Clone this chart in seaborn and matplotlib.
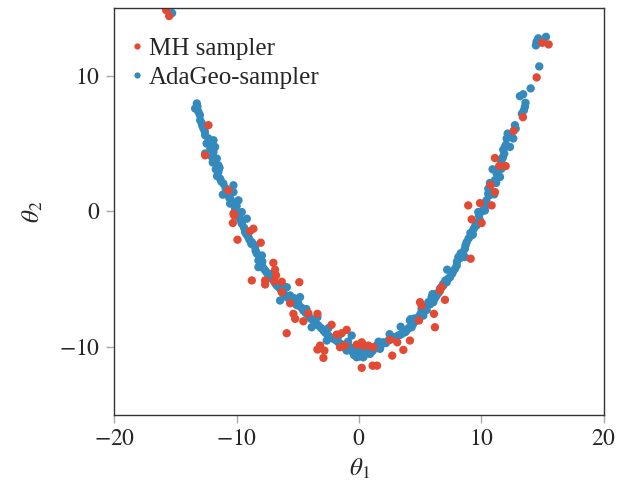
import pandas as pd
import seaborn as sns
import matplotlib.pyplot as plt

# MH sampler points (theta1, theta2)
mh_theta1 = [-15.76, -15.51, -12.30, -12.57, -10.67, -10.26, -10.20, -10.31, -8.63, -8.90,
             -9.93, -8.03, -7.00, -6.86, -6.78, -8.76, -7.67, -7.67, -6.91, -6.31,
             -4.88, -6.31, -5.63, -5.36, -5.22, -4.14, -3.40, -4.55, -5.91, -2.24,
             -1.83, -1.42, -1.01, -3.18, -3.40, -2.83, -2.91, -1.55, -1.14, 0.22,
             -0.19, 0.35, 0.22, 0.76, 1.17, 2.53, 3.12, 4.16, 3.62, 2.71,
             1.11, 1.47, 0.22, 4.98, 5.11, 4.90, 6.12, 6.20, 6.61, 7.02,
             6.74, 8.92, 9.88, 10.83, 9.20, 10.01, 9.12, 14.96, 15.49, 14.51,
             13.39, 12.63, 11.10, 11.45, 11.98, 10.74, 11.10]
mh_theta2 = [14.83, 14.39, 6.35, 4.13, 1.55, -0.17, -0.30, -0.86, -1.28, -1.45,
             -2.09, -2.31, -3.79, -4.30, -4.72, -5.09, -5.09, -5.39, -5.14, -5.19,
             -5.22, -5.96, -6.77, -7.55, -7.92, -7.51, -7.55, -8.10, -8.98, -8.36,
             -9.08, -8.98, -8.73, -9.89, -10.18, -10.26, -10.80, -10.01, -9.89, -9.74,
             -9.82, -9.89, -9.65, -9.89, -10.01, -9.47, -9.65, -9.52, -10.21, -10.63,
             -11.37, -11.37, -11.53, -6.69, -6.94, -8.04, -7.55, -8.54, -5.83, -6.52,
             -5.57, 0.44, 0.61, 0.44, -0.59, -0.86, -3.49, 12.42, 12.30, 9.87,
             6.94, 5.93, 3.93, 3.34, 3.34, 1.94, 1.42]

# AdaGeo-sampler points (theta1, theta2)
ag_theta1 = [-15.27, -13.25, -13.39, -13.12, -12.98, -12.71, -12.57, -12.30, -11.89, -11.76,
             -11.89, -12.02, -11.62, -11.49, -11.49, -11.35, -11.08, -10.26, -10.26, -11.13,
             -10.39, -9.85, -10.12, -9.58, -12.57, -10.53, -10.12, -9.85, -9.58, -9.31,
             -9.04, -8.76, -8.49, -8.35, -8.22, -7.94, -7.67, -7.40, -7.00, -6.72,
             -6.45, -6.18, -5.90, -5.36, -4.96, -9.17, -8.22, -7.94, -5.90, -6.45,
             -6.18, -5.63, -5.22, -4.96, -4.55, -4.14, -3.73, -3.32, -2.91, -2.51,
             -2.10, -1.69, -1.28, -0.73, -0.33, 0.22, -0.60, 0.00, -4.82, -3.87,
             -2.64, -1.01, -0.19, 0.63, 1.44, 1.98, 2.80, 3.49, 3.89, 4.30,
             4.16, 4.84, 5.12, 5.39, 5.66, 5.93, 6.34, 6.61, 6.88, 0.35,
             0.90, 1.71, 2.39, 3.21, 3.76, 4.43, 5.25, 5.53, 6.07, 10.69,
             10.15, 9.74, 9.88, 9.47, 9.20, 8.79, 8.65, 8.38, 8.11, 7.98,
             7.84, 7.43, 7.16, 6.88, 6.61, 6.34, 6.07, 10.29, 9.61, 8.65,
             14.64, 15.27, 14.45, 14.72, 14.02, 13.14, 13.41, 13.55, 13.47, 12.73,
             12.14, 12.06, 12.60, 11.92, 12.33, 11.78, 11.86, 11.70, 10.91, 11.24,
             11.51, 11.65, 10.69, 10.56, 10.64, 11.04,
             -13.20, -13.00, -12.85, -12.60, -12.45, -12.15, -11.95, -11.70, -11.60, -11.25,
             -10.90, -10.70, -10.50, -10.00, -9.90, -9.70, -9.40, -9.20, -8.95, -8.60,
             -8.45, -8.10, -8.05, -7.80, -7.55, -7.25, -6.85, -6.60, -6.30, -6.05,
             -5.75, -5.50, -5.10, -4.70, -4.35, -3.95, -3.55, -3.10, -2.75, -2.35,
             -1.90, -1.50, -1.10, -0.50, -0.05, 0.45, 0.10, -0.40, 0.70, 1.10,
             1.30, 1.85, 2.20, 2.60, 3.00, 3.35, 3.60, 4.05, 4.60, 4.50,
             5.00, 5.30, 5.80, 6.20, 6.50, 6.75, 7.05, 7.30, 7.60, 7.70,
             8.00, 8.25, 8.50, 8.70, 8.95, 9.10, 9.35, 9.55, 9.80, 10.00,
             10.40, 10.55, 10.80, 11.10, 11.35, 11.60, 11.75, 12.00, 12.40, 12.80,
             13.30, 13.60, 14.50,
             -12.80, -12.20, -11.40, -10.60, -9.60, -8.80, -7.90, -7.10, -6.20, -5.30,
             -4.30, -3.40, -2.50, -1.70, -0.90, 0.50, 1.60, 2.50, 3.40, 4.20,
             5.10, 6.00, 7.20, 8.30, 9.30, 10.30, 11.20]
ag_theta2 = [14.61, 7.95, 7.58, 7.33, 6.72, 6.10, 5.61, 5.37, 5.24, 4.75,
             4.38, 4.01, 3.89, 3.39, 2.90, 2.41, 2.04, 1.92, 1.42, 1.23,
             0.69, 0.81, 0.20, -0.05, 4.26, 0.57, 0.07, -0.42, -0.91, -1.53,
             -1.90, -2.27, -2.63, -3.12, -3.62, -3.99, -4.35, -4.72, -5.09, -5.46,
             -5.70, -6.07, -6.32, -6.57, -6.81, -0.54, -4.11, -3.25, -5.59, -6.57,
             -5.83, -6.20, -6.57, -6.94, -7.31, -7.68, -8.04, -8.41, -8.78, -9.15,
             -9.39, -9.65, -9.89, -10.01, -10.26, -10.38, -9.15, -10.70, -6.32, -8.54,
             -9.52, -10.26, -10.75, -10.26, -9.89, -9.65, -9.28, -9.03, -8.78, -8.54,
             -8.04, -7.80, -7.43, -7.06, -6.69, -6.32, -6.07, -5.70, -5.34, -10.75,
             -10.50, -10.13, -9.52, -9.15, -8.91, -8.29, -7.68, -7.26, -6.52, 1.55,
             0.07, -0.05, -0.66, -1.11, -1.77, -2.27, -2.75, -3.32, -3.37, -3.99,
             -4.23, -4.85, -5.22, -5.46, -5.83, -6.20, -6.69, 0.07, -1.03, -3.37,
             12.75, 12.86, 12.23, 10.68, 9.06, 8.49, 8.63, 7.70, 7.45, 6.35,
             5.73, 5.37, 5.37, 4.75, 4.75, 4.55, 4.26, 3.89, 3.10, 2.78,
             2.53, 3.15, 2.09, 1.67, 1.18, 1.25,
             7.70, 7.10, 6.50, 5.90, 5.00, 4.60, 3.60, 3.10, 2.60, 2.20,
             1.70, 1.20, 0.90, 0.40, -0.20, -0.60, -1.20, -1.70, -2.10, -2.45,
             -2.90, -3.40, -3.80, -4.20, -4.50, -4.90, -5.30, -5.55, -5.90, -6.20,
             -6.40, -6.70, -6.90, -7.10, -7.50, -7.90, -8.20, -8.60, -8.95, -9.30,
             -9.50, -9.75, -10.10, -10.40, -10.50, -10.55, -10.30, -10.60, -10.45, -10.30,
             -10.10, -9.80, -9.70, -9.40, -9.25, -9.10, -8.90, -8.60, -8.10, -7.90,
             -7.60, -7.35, -6.85, -6.40, -6.00, -5.60, -5.10, -4.95, -4.60, -4.40,
             -3.70, -3.45, -3.00, -2.50, -2.00, -1.60, -1.30, -0.85, -0.30, 0.00,
             0.80, 1.30, 2.00, 2.30, 2.90, 3.60, 4.00, 4.90, 5.50, 6.10,
             7.20, 8.00, 12.50,
             6.30, 5.10, 3.20, 1.00, -0.80, -2.40, -3.70, -4.60, -5.50, -6.40,
             -7.20, -7.80, -8.60, -9.20, -9.60, -10.20, -9.60, -9.05, -8.50, -7.95,
             -7.20, -6.10, -4.30, -3.10, -1.70, 0.40, 2.10]

xticks = [-20, -10, 0, 10, 20]
yticks = [-10, 0, 10]

df = pd.concat([
    pd.DataFrame({"theta1": ag_theta1, "theta2": ag_theta2, "sampler": "AdaGeo-sampler"}),
    pd.DataFrame({"theta1": mh_theta1, "theta2": mh_theta2, "sampler": "MH sampler"}),
], ignore_index=True)

sns.set_style("white")
plt.rcParams["font.family"] = ["Liberation Serif", "DejaVu Serif"]
plt.rcParams["mathtext.fontset"] = "stix"

fig, ax = plt.subplots(figsize=(6.31, 4.87), dpi=100)
fig.subplots_adjust(left=0.181, right=0.957, bottom=0.148, top=0.984)

palette = {"MH sampler": "#E24A33", "AdaGeo-sampler": "#348ABD"}
sns.scatterplot(data=df, x="theta1", y="theta2", hue="sampler",
                hue_order=["MH sampler", "AdaGeo-sampler"], palette=palette,
                s=36, linewidth=0, ax=ax)

ax.set_xlim(-20, 20)
ax.set_ylim(-15, 15)
ax.set_xticks(xticks)
ax.set_xticklabels([f"${v}$" for v in xticks])
ax.set_yticks(yticks)
ax.set_yticklabels([f"${v}$" for v in yticks])
ax.set_xlabel(r"$\theta_1$", fontsize=18, labelpad=5)
ax.set_ylabel(r"$\theta_2$", fontsize=18, labelpad=10)
ax.tick_params(axis="both", labelsize=17, length=6, width=1, color="#aaaaaa",
               direction="out", bottom=True, left=True, pad=4)
for sp in ax.spines.values():
    sp.set_color("#333333")
    sp.set_linewidth(1)

ax.legend(loc="upper left", frameon=False, fontsize=18, handlelength=0.4,
          handletextpad=0.3, borderaxespad=0.3, labelspacing=0.25,
          markerscale=0.75, bbox_to_anchor=(0.0, 0.97))

fig.savefig("out.png", dpi=100)
